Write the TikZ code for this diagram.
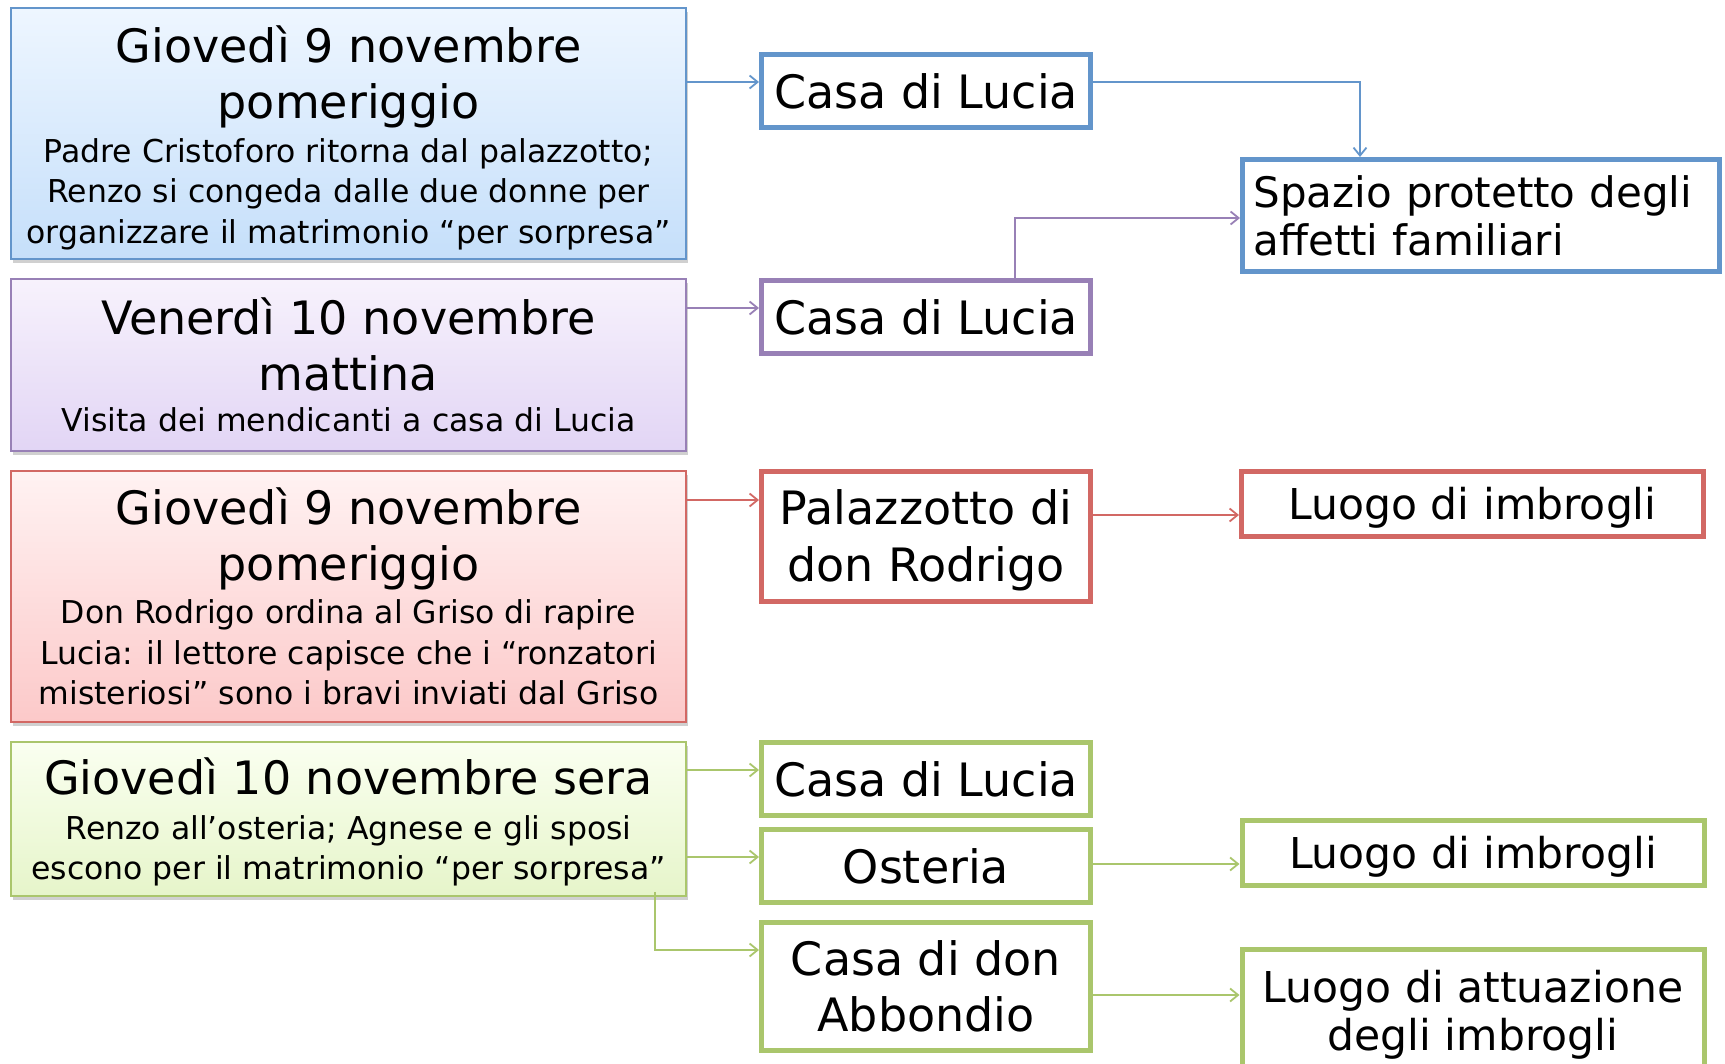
\documentclass[tikz,border=0pt]{standalone}
\usepackage{fontspec}
\setmainfont{DejaVu Sans}
\usetikzlibrary{arrows.meta,shadows,calc}
\definecolor{cblue}{RGB}{99,149,203}
\definecolor{cpurple}{RGB}{152,128,182}
\definecolor{cred}{RGB}{210,104,100}
\definecolor{cgreen}{RGB}{170,198,108}
\definecolor{bluetop}{RGB}{238,246,255}
\definecolor{bluebot}{RGB}{197,223,250}
\definecolor{purpletop}{RGB}{247,242,252}
\definecolor{purplebot}{RGB}{226,213,245}
\definecolor{redtop}{RGB}{255,242,242}
\definecolor{redbot}{RGB}{252,201,201}
\definecolor{greentop}{RGB}{250,255,240}
\definecolor{greenbot}{RGB}{230,245,202}
\tikzset{
  leftbox/.style={draw, line width=1.8pt, inner sep=0pt, minimum width=675pt,
    drop shadow={shadow xshift=1.5pt, shadow yshift=-4pt, opacity=.3, fill=black!60}},
  placebox/.style={draw, line width=5pt, fill=white, inner sep=0pt, minimum width=329pt,
    minimum height=73pt, align=center, font=\fontsize{46}{56}\selectfont},
  rightbox/.style={draw, line width=5pt, fill=white, inner sep=0pt, minimum width=462pt,
    minimum height=65pt, align=center, font=\fontsize{42.5}{48}\selectfont},
  oneline/.style={text height=40pt, text depth=10pt},
  conn/.style={line width=1.8pt, -{Straight Barb[length=8pt,width=13pt,line width=1.8pt]}}
}
\begin{document}
\begin{tikzpicture}[x=1pt,y=-1pt]
\clip (0,0) rectangle (1725,1064);
\fill[white] (0,0) rectangle (1725,1064);

% left boxes
\node[leftbox, draw=cblue, top color=bluetop, bottom color=bluebot, minimum height=251pt] (L1) at (348.5,133.5)
 {\begin{minipage}{672pt}\centering\vspace*{9pt}
  {\fontsize{46}{56}\selectfont Giovedì 9 novembre\\pomeriggio\par}\vspace{3pt}
  {\fontsize{31.5}{40.7}\selectfont Padre Cristoforo ritorna dal palazzotto;\\Renzo si congeda dalle due donne per\\organizzare il matrimonio “per sorpresa”\par}
  \end{minipage}};
\node[leftbox, draw=cpurple, top color=purpletop, bottom color=purplebot, minimum height=172pt] (L2) at (348.5,365)
 {\begin{minipage}{672pt}\centering
  {\fontsize{46}{56}\selectfont Venerdì 10 novembre\\mattina\par}
  {\fontsize{31.5}{40.7}\selectfont Visita dei mendicanti a casa di Lucia\par}
  \end{minipage}};
\node[leftbox, draw=cred, top color=redtop, bottom color=redbot, minimum height=251pt] (L3) at (348.5,596.5)
 {\begin{minipage}{672pt}\centering
  {\fontsize{46}{56}\selectfont Giovedì 9 novembre\\pomeriggio\par}\vspace{2pt}
  {\fontsize{31.5}{40.7}\selectfont Don Rodrigo ordina al Griso di rapire\\Lucia: il lettore capisce che i “ronzatori\\misteriosi” sono i bravi inviati dal Griso\par}
  \end{minipage}};
\node[leftbox, draw=cgreen, top color=greentop, bottom color=greenbot, minimum height=154pt] (L4) at (348.5,819)
 {\begin{minipage}{672pt}\centering\vspace*{6pt}
  {\fontsize{46}{56}\selectfont Giovedì 10 novembre sera\par}\vspace{4pt}
  {\fontsize{31.5}{40.7}\selectfont Renzo all’osteria; Agnese e gli sposi\\escono per il matrimonio “per sorpresa”\par}
  \end{minipage}};

% middle boxes
\node[placebox, draw=cblue] (M1) at (926,91) {Casa di Lucia};
\node[placebox, draw=cpurple] (M2) at (926,317) {Casa di Lucia};
\node[placebox, draw=cred, minimum height=130pt, font=\fontsize{46}{57}\selectfont] (M3) at (926,536.5) {\rule{0pt}{43pt}Palazzotto di\\don Rodrigo};
\node[placebox, draw=cgreen] (M4) at (926,779) {Casa di Lucia};
\node[placebox, draw=cgreen] (M5) at (926,866) {Osteria};
\node[placebox, draw=cgreen, minimum height=128pt] (M6) at (926,986.5) {Casa di don\\Abbondio};

% right boxes
\node[rightbox, draw=cblue, minimum width=477pt, minimum height=112pt, align=left, text width=455pt,
  font=\fontsize{42}{48}\selectfont] (R1) at (1481,215.5) {Spazio protetto degli\\affetti familiari};
\node[rightbox, oneline, draw=cred] (R2) at (1472.5,504) {Luogo di imbrogli};
\node[rightbox, oneline, draw=cgreen] (R3) at (1473,853) {Luogo di imbrogli};
\node[rightbox, draw=cgreen, minimum height=130pt] (R4) at (1473,1014.5) {Luogo di attuazione\\degli imbrogli};

% connectors
\draw[conn, cblue] (L1.east |- 0,82) -- (M1.west |- 0,82);
\draw[conn, cblue] (M1.east |- 0,82) -| (R1.north -| 1360,0);
\draw[conn, cpurple] (L2.east |- 0,308) -- (M2.west |- 0,308);
\draw[conn, cpurple] (M2.north -| 1015,0) |- (R1.west |- 0,218);
\draw[conn, cred] (L3.east |- 0,500) -- (M3.west |- 0,500);
\draw[conn, cred] (M3.east |- 0,515) -- (R2.west |- 0,515);
\draw[conn, cgreen] (L4.east |- 0,770) -- (M4.west |- 0,770);
\draw[conn, cgreen] (L4.east |- 0,857) -- (M5.west |- 0,857);
\coordinate (L4s) at ([xshift=-32pt,yshift=5pt]L4.south east);
\draw[conn, cgreen] (L4s) |- (M6.west |- 0,950);
\draw[conn, cgreen] (M5.east |- 0,864) -- (R3.west |- 0,864);
\draw[conn, cgreen] (M6.east |- 0,995) -- (R4.west |- 0,995);
\end{tikzpicture}
\end{document}
